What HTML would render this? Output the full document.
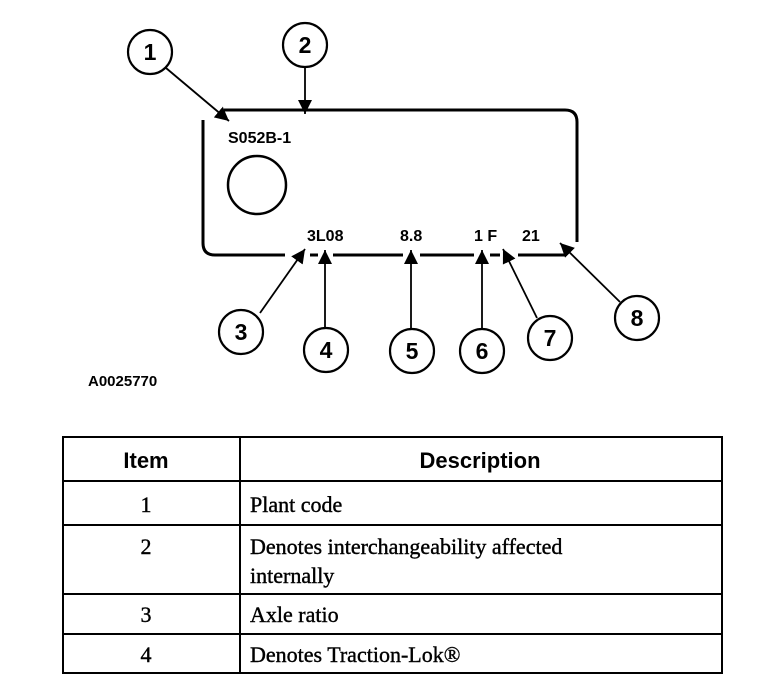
<!DOCTYPE html>
<html><head><meta charset="utf-8"><style>
html,body{margin:0;padding:0;background:#fff;width:768px;height:684px;overflow:hidden}
svg{position:absolute;left:0;top:0}
.s{font-family:"Liberation Sans",Arial,sans-serif}
.r{font-family:"Liberation Serif","Times New Roman",serif}
</style></head><body>
<svg width="768" height="684" viewBox="0 0 768 684">
<defs>
<marker id="b" viewBox="0 0 10 10" markerWidth="14" markerHeight="18" refX="10" refY="5" orient="auto" markerUnits="userSpaceOnUse"><path d="M0,0 L10,5 L0,10 z" fill="#000"/></marker></defs>
<g fill="none" stroke="#000" stroke-width="3">
<path d="M224,110 H565 Q577,110 577,122 V242"/>
<path d="M203,120 V243 Q203,255 215,255 H285 M310,255 H318 M333,255 H403 M420,255 H474 M490,255 H500 M518,255 H566"/>
<circle cx="257" cy="185" r="29" stroke-width="2.5"/>
</g>
<g fill="none" stroke="#000" stroke-width="2.2">
<circle cx="150" cy="52" r="22"/><circle cx="305" cy="45" r="22"/>
<circle cx="241" cy="332" r="22"/><circle cx="326" cy="350" r="22"/>
<circle cx="412" cy="351" r="22"/><circle cx="482" cy="351" r="22"/>
<circle cx="550" cy="338" r="22"/><circle cx="637" cy="318" r="22"/>
</g>
<g stroke="#000" stroke-width="1.8" marker-end="url(#b)">
<line x1="166" y1="68" x2="229" y2="121"/>
<line x1="305" y1="67" x2="305" y2="114"/>
<line x1="260" y1="313" x2="305" y2="249"/>
<line x1="325" y1="328" x2="325" y2="250"/>
<line x1="411" y1="329" x2="411" y2="250"/>
<line x1="482" y1="329" x2="482" y2="250"/>
<line x1="537" y1="318" x2="503" y2="249"/>
<line x1="620" y1="302" x2="560" y2="243"/>
</g>
<g class="s" font-size="23" font-weight="bold" text-anchor="middle" fill="#000">
<text x="150" y="60">1</text><text x="305" y="53">2</text>
<text x="241" y="340">3</text><text x="326" y="358">4</text>
<text x="412" y="359">5</text><text x="482" y="359">6</text>
<text x="550" y="346">7</text><text x="637" y="326">8</text>
</g>
<g class="s" font-size="16" font-weight="bold" fill="#000">
<text x="228" y="143">S052B-1</text>
<text x="307" y="241">3L08</text>
<text x="400" y="241">8.8</text>
<text x="474" y="241">1 F</text>
<text x="522" y="241">21</text>
<text x="88" y="386" font-size="15">A0025770</text>
</g>
<g stroke="#000" stroke-width="2" fill="none">
<rect x="63" y="437" width="659" height="236"/>
<line x1="63" y1="481" x2="722" y2="481"/>
<line x1="63" y1="525" x2="722" y2="525"/>
<line x1="63" y1="594" x2="722" y2="594"/>
<line x1="63" y1="634" x2="722" y2="634"/>
<line x1="240" y1="437" x2="240" y2="673"/>
</g>
<g class="s" font-weight="bold" font-size="22" fill="#000">
<text x="146" y="468" text-anchor="middle">Item</text>
<text x="480" y="468" text-anchor="middle">Description</text>
</g>
<g class="r" font-size="22" fill="#000" stroke="#000" stroke-width="0.4">
<text x="146" y="512" text-anchor="middle">1</text><text x="250" y="512">Plant code</text>
<text x="146" y="554" text-anchor="middle">2</text><text x="250" y="554">Denotes interchangeability affected</text><text x="250" y="583">internally</text>
<text x="146" y="622" text-anchor="middle">3</text><text x="250" y="622">Axle ratio</text>
<text x="146" y="662" text-anchor="middle">4</text><text x="250" y="662">Denotes Traction-Lok®</text>
</g>
</svg>
</body></html>
